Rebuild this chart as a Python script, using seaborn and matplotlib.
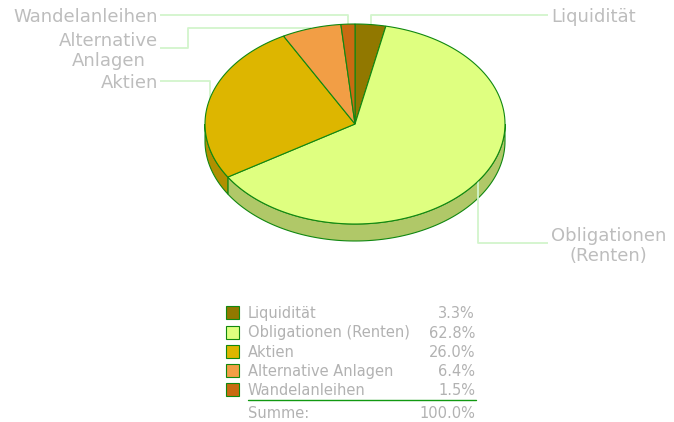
import numpy as np
import matplotlib
matplotlib.use("Agg")
import matplotlib.pyplot as plt
from matplotlib.patches import Polygon, Rectangle
import seaborn as sns

# data
categories = ["Liquidität", "Obligationen (Renten)", "Aktien",
              "Alternative Anlagen", "Wandelanleihen"]
shares = [3.3, 62.8, 26.0, 6.4, 1.5]
pie_labels = ["Liquidität", "Obligationen\n(Renten)", "Aktien",
              "Alternative\nAnlagen", "Wandelanleihen"]
total_label = "Summe:"

top_colors = ["#917800", "#DFFF80", "#DDB600", "#F29E45", "#C96A12"]
side_colors = ["#6E5B00", "#B0C868", "#B08F00", "#C07C35", "#9C520E"]
edge_green = "#118811"
line_green = "#D2F5CC"
label_grey = "#BDBDBD"
legend_grey = "#B2B2B2"

sns.set_theme(style="white")
plt.rcParams['font.family'] = ['DejaVu Sans']

fig = plt.figure(figsize=(6.74, 4.22), dpi=100)
ax = fig.add_axes([0, 0, 1, 1])
ax.set_xlim(0, 674)
ax.set_ylim(422, 0)
ax.axis('off')

# pseudo 3d pie, angles clockwise from 12 o'clock
cx, cy, rx, ry, depth = 355, 124, 150, 100, 17


def rim(a0, a1, n=120):
    t = np.radians(np.linspace(a0, a1, n))
    return cx + rx * np.sin(t), cy - ry * np.cos(t)


ends = np.cumsum(shares) / sum(shares) * 360
starts = np.concatenate([[0], ends[:-1]])

# side walls (front half only)
for a0, a1, col in zip(starts, ends, side_colors):
    lo, hi = max(a0, 90), min(a1, 270)
    if lo >= hi:
        continue
    x, y = rim(lo, hi)
    pts = list(zip(x, y)) + list(zip(x[::-1], y[::-1] + depth))
    ax.add_patch(Polygon(pts, closed=True, facecolor=col, edgecolor=edge_green,
                         lw=0.8, zorder=1))

# top faces
for a0, a1, col in zip(starts, ends, top_colors):
    x, y = rim(a0, a1)
    pts = [(cx, cy)] + list(zip(x, y))
    ax.add_patch(Polygon(pts, closed=True, facecolor=col, edgecolor=edge_green,
                         lw=0.8, zorder=2))

# leader lines and labels
# (y of horizontal run, text x, anchor, baseline of last line, bend x)
label_layout = [
    (15, 551, 'left', 22.5, None),
    (243, 551, 'left', 261, None),
    (81, 158, 'right', 88, None),
    (48, 158, 'right', 66, 188),
    (15, 158, 'right', 22.5, None),
]
for lab, a0, a1, (ly, tx, ha, base, bend) in zip(pie_labels, starts, ends, label_layout):
    mid = (a0 + a1) / 2
    sx, sy = rim(mid, mid, 1)
    sx, sy = sx[0], sy[0]
    lx = tx - 3 if ha == 'left' else tx + 2
    if bend is None:
        xs = [sx, sx, lx]
        ys = [sy, ly, ly]
    else:
        xs = [sx, bend, bend, lx]
        ys = [sy, sy, ly, ly]
    ax.plot(xs, ys, color=line_green, lw=1.3, zorder=1.5, solid_capstyle='butt')
    ax.text(tx, base, lab, ha=ha, va='baseline', multialignment='center',
            color=label_grey, fontsize=13, linespacing=1.15, zorder=3)

# legend table
row_y0, row_dy = 312.7, 19.3
for i, (cat, val, col) in enumerate(zip(categories, shares, top_colors)):
    yc = row_y0 + i * row_dy
    ax.add_patch(Rectangle((226, yc - 6.5), 13, 13, facecolor=col,
                           edgecolor=edge_green, lw=0.8, zorder=2))
    ax.text(248, yc + 5.5, cat, ha='left', va='baseline', color=legend_grey,
            fontsize=10.5)
    ax.text(475, yc + 5.5, f"{val:.1f}%", ha='right', va='baseline',
            color=legend_grey, fontsize=10.5)

ax.plot([248, 476], [400, 400], color="#119911", lw=1.0)
ax.text(248, 417.5, total_label, ha='left', va='baseline', color=legend_grey,
        fontsize=10.5)
ax.text(475, 417.5, f"{sum(shares):.1f}%", ha='right', va='baseline',
        color=legend_grey, fontsize=10.5)

fig.savefig("out.png", dpi=100)
